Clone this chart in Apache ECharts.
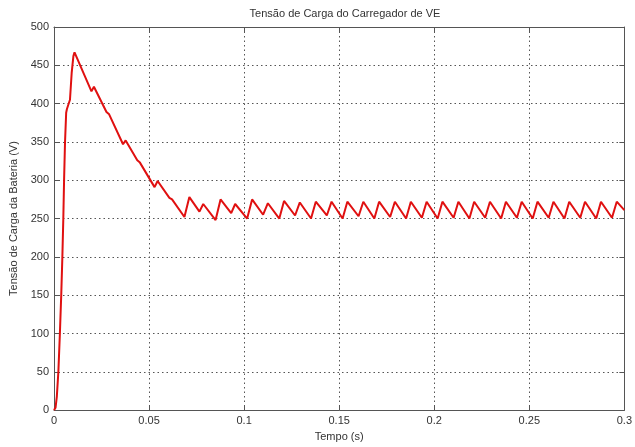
<!DOCTYPE html>
<html>
<head>
<meta charset="utf-8">
<script src="https://cdn.jsdelivr.net/npm/echarts@6/dist/echarts.min.js"></script>
<style>
  html, body { margin: 0; padding: 0; background: #fff; }
  #DataChart { width: 635px; height: 447px; }
</style>
</head>
<body>
<div id="DataChart"></div>
<script>
// pontos (tempo em s, tensão em V)
var partidaT = [0, 0.0008, 0.0015, 0.0023, 0.0031, 0.0038, 0.0044, 0.0049, 0.0053, 0.0058, 0.0064, 0.0068, 0.0078, 0.0084, 0.0093, 0.0102, 0.0108];
var partidaV = [0, 3, 18, 50, 100, 150, 200, 250, 300, 350, 388, 393, 391, 405, 440, 462, 467];

var descidaT = [0.0197, 0.0210, 0.0276, 0.0290, 0.0363, 0.0377, 0.0438, 0.0452, 0.0529, 0.0545, 0.0607, 0.0621, 0.0686];
var descidaV = [416, 422, 389, 386, 347, 352, 326, 323, 291, 299, 277, 275, 252];

var ondulacaoT = [0.0712, 0.0765, 0.0785, 0.0850, 0.0876, 0.0932, 0.0953, 0.1016, 0.1042, 0.1100, 0.1125, 0.1185, 0.1210,
    0.1268, 0.1293, 0.1352, 0.1377, 0.1435, 0.1460, 0.1518, 0.1543, 0.1602, 0.1627, 0.1685, 0.1710,
    0.1768, 0.1793, 0.1852, 0.1877, 0.1935, 0.1960, 0.2018, 0.2043, 0.2102, 0.2127, 0.2185, 0.2210,
    0.2268, 0.2293, 0.2352, 0.2377, 0.2435, 0.2460, 0.2518, 0.2543, 0.2602, 0.2627, 0.2685, 0.2710,
    0.2768, 0.2793, 0.2852, 0.2877, 0.2935, 0.2960, 0.3000];
var ondulacaoV = [278, 259, 269, 248, 275, 257, 269, 250, 275, 255, 270, 250, 273,
    254, 271, 250, 272, 254, 272, 250, 272, 253, 272, 250, 272,
    252, 272, 250, 272, 251, 272, 250, 272, 251, 272, 250, 272,
    251, 272, 250, 272, 251, 272, 250, 272, 251, 272, 250, 272,
    251, 272, 250, 272, 251, 272, 261];

var tempo = partidaT.concat(descidaT, ondulacaoT);
var tensao = partidaV.concat(descidaV, ondulacaoV);
var dados = tempo.map(function (t, i) { return [t, tensao[i]]; });

var myChart = echarts.init(document.getElementById('DataChart'));

var corTexto = '#333';
var corEixo = '#555';
var fonte = '"Liberation Sans", Arial, sans-serif';

var option = {
    animation: false,
    title: {
        text: 'Tensão de Carga do Carregador de VE',
        left: 340,
        textAlign: 'center',
        top: 3,
        textStyle: { fontSize: 11, fontWeight: 'normal', color: corTexto, fontFamily: fonte }
    },
    grid: { left: 54, right: 8, top: 27, bottom: 33 },
    xAxis: [
        {
            type: 'value',
            min: 0, max: 0.3, interval: 0.05,
            name: 'Tempo (s)',
            nameLocation: 'middle',
            nameGap: 19,
            nameTextStyle: { fontSize: 11, color: corTexto, fontFamily: fonte },
            axisLine: { show: true, onZero: false, lineStyle: { color: corEixo, width: 1 } },
            axisTick: { show: true, inside: true, length: 5, lineStyle: { color: corEixo } },
            axisLabel: { fontSize: 11, color: corTexto, fontFamily: fonte, margin: 5 },
            splitLine: { show: true, lineStyle: { color: '#555', type: [1.5, 3], width: 1 } }
        },
        {
            type: 'value', position: 'top',
            min: 0, max: 0.3, interval: 0.05,
            axisLine: { show: true, onZero: false, lineStyle: { color: corEixo, width: 1 } },
            axisTick: { show: true, inside: true, length: 5, lineStyle: { color: corEixo } },
            axisLabel: { show: false },
            splitLine: { show: false }
        }
    ],
    yAxis: [
        {
            type: 'value',
            min: 0, max: 500, interval: 50,
            name: 'Tensão de Carga da Bateria (V)',
            nameLocation: 'middle',
            nameGap: 30,
            nameTextStyle: { fontSize: 11, color: corTexto, fontFamily: fonte },
            axisLine: { show: true, onZero: false, lineStyle: { color: corEixo, width: 1 } },
            axisTick: { show: true, inside: true, length: 5, lineStyle: { color: corEixo } },
            axisLabel: { fontSize: 11, color: corTexto, fontFamily: fonte, margin: 5 },
            splitLine: { show: true, lineStyle: { color: '#555', type: [1.5, 3], width: 1 } }
        },
        {
            type: 'value', position: 'right',
            min: 0, max: 500, interval: 50,
            axisLine: { show: true, onZero: false, lineStyle: { color: corEixo, width: 1 } },
            axisTick: { show: true, inside: true, length: 5, lineStyle: { color: corEixo } },
            axisLabel: { show: false },
            splitLine: { show: false }
        }
    ],
    series: [
        {
            name: 'Tensão',
            type: 'line',
            xAxisIndex: 0,
            yAxisIndex: 0,
            data: dados,
            showSymbol: false,
            lineStyle: { color: '#e01010', width: 2 },
            itemStyle: { color: '#e01010' }
        }
    ]
};

myChart.setOption(option);
</script>
</body>
</html>
